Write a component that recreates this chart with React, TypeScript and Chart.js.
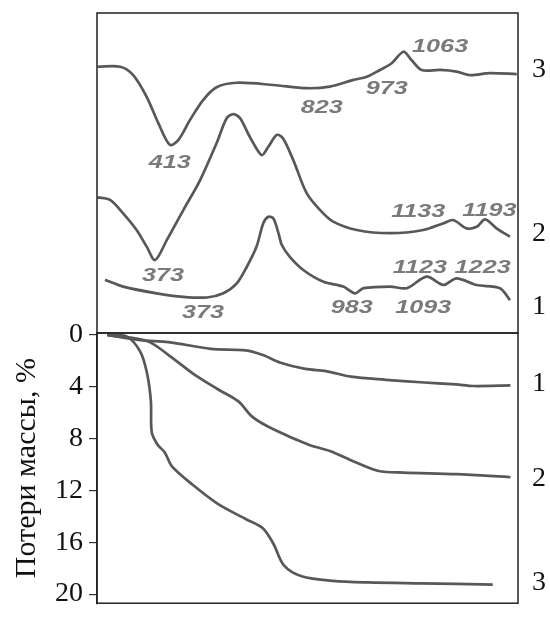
import React, { useEffect, useRef } from "react";
import { Chart, registerables } from "chart.js";

Chart.register(...registerables);

// ---- shared temperature axis (K) ----
const T_MIN = 300;
const T_MAX = 1300;

// ---- DTA curves (upper panel, arbitrary units) ----
const dta3T = [301, 355, 386, 418, 446, 473, 493, 521, 552, 584, 632, 719, 798, 853, 909, 941, 972, 1000, 1028, 1047, 1071, 1115, 1154, 1186, 1233, 1297];
const dta3V = [83.2, 83.2, 80.6, 73.8, 65.5, 58.8, 60.3, 66.6, 72.8, 76.8, 78.2, 77.5, 76.5, 77, 79.1, 80.1, 82.2, 84.3, 87.9, 85.3, 82.2, 82.2, 81.7, 80.6, 81.2, 80.9];

const dta2T = [301, 331, 362, 394, 418, 438, 466, 505, 545, 584, 608, 624, 640, 663, 691, 707, 727, 742, 766, 798, 830, 861, 917, 996, 1075, 1123, 1146, 1178, 1202, 1222, 1249, 1281];
const dta2V = [42.4, 41.6, 37.4, 32.2, 27, 22.8, 29.1, 38.4, 47.8, 59.3, 67.1, 68.4, 67.1, 61.3, 55.6, 58.2, 61.9, 60.8, 54.1, 43.7, 38.4, 34.8, 32.2, 31.2, 32.2, 34.3, 35.3, 32.7, 33.2, 35.5, 32.7, 30.1];

const dta1T = [319, 362, 442, 505, 561, 600, 632, 656, 679, 695, 707, 719, 731, 739, 758, 790, 838, 885, 913, 933, 996, 1036, 1083, 1123, 1154, 1202, 1257, 1281];
const dta1V = [16.6, 14.5, 12.4, 11.3, 11.1, 12.4, 15.5, 20.7, 27, 34.3, 36.3, 35.8, 31.2, 27.5, 23.8, 19.7, 16, 14.5, 12.4, 14, 14.5, 14, 17.6, 15, 17.1, 15, 14, 10.3];

// peak annotations of the DTA curves
const peakTexts = ["1063", "973", "823", "413", "373", "1133", "1193", "1123", "1223", "983", "1093", "373"];
const peakT = [1115, 988, 834, 473, 457, 1063, 1232, 1067, 1216, 905, 1075, 552];
const peakV = [89.5, 76.2, 70.2, 53, 17.8, 37.9, 38.2, 20.2, 20.2, 7.7, 7.7, 6.2];

// ---- mass-loss curves (lower panel, %) ----
const tg1T = [324, 403, 470, 570, 653, 694, 736, 795, 844, 903, 986, 1069, 1153, 1194, 1282];
const tg1V = [0, 0.4, 0.55, 1.07, 1.19, 1.55, 2.14, 2.62, 2.79, 3.22, 3.46, 3.65, 3.82, 3.94, 3.89];

const tg2T = [324, 419, 470, 528, 586, 636, 669, 719, 803, 853, 903, 969, 1028, 1153, 1282];
const tg2V = [0, 0.47, 1.55, 2.98, 4.17, 5.13, 6.32, 7.28, 8.47, 8.95, 9.66, 10.5, 10.62, 10.74, 10.98];

const tg3T = [324, 370, 403, 419, 428, 430, 444, 461, 478, 528, 586, 653, 694, 719, 744, 786, 861, 944, 1069, 1240];
const tg3V = [0, 0.11, 1.3, 2.98, 5.13, 7.51, 8.47, 9.07, 10.14, 11.58, 13.01, 14.2, 14.91, 16.11, 17.78, 18.62, 18.98, 19.1, 19.17, 19.26];

const massTicks = [0, 4, 8, 12, 16, 20];
const massTitle = "Потери массы, %";

// curve numbers at the right edge and the value level where each is written
const dtaCurveNames = ["3", "2", "1"];
const dtaNameV = [82.2, 31.2, 8.1];
const tgCurveNames = ["1", "2", "3"];
const tgNameV = [3.79, 11.1, 19.11];

const LINE_COLOR = "#585858";
const FRAME_COLOR = "#222";
const SERIF = "'Liberation Serif', 'Times New Roman', serif";
const SANS = "'Liberation Sans', Arial, sans-serif";

const zip = (xs: number[], ys: number[]) => xs.map((x, i) => ({ x, y: ys[i] }));

const lineDs = (label: string, xs: number[], ys: number[]) => ({
  label,
  data: zip(xs, ys),
  borderColor: LINE_COLOR,
  borderWidth: 2.7,
  pointRadius: 0,
  tension: 0.3,
  fill: false,
});

const framePlugin = {
  id: "frame",
  afterDraw(chart: any) {
    const { ctx, chartArea } = chart;
    const { left, top, right, bottom } = chartArea;
    ctx.save();
    ctx.strokeStyle = FRAME_COLOR;
    ctx.lineWidth = 1.5;
    ctx.strokeRect(left, top, right - left, bottom - top);
    ctx.restore();
  },
};

const makeEndLabels = (names: string[], levels: number[]) => ({
  id: "endLabels",
  afterDraw(chart: any) {
    const { ctx, chartArea } = chart;
    const ys = chart.scales.y;
    ctx.save();
    ctx.font = `28px ${SERIF}`;
    ctx.fillStyle = "#111";
    ctx.textAlign = "left";
    ctx.textBaseline = "middle";
    names.forEach((n, i) => {
      ctx.fillText(n, chartArea.right + 14, ys.getPixelForValue(levels[i]));
    });
    ctx.restore();
  },
});

const peakLabelsPlugin = {
  id: "peakLabels",
  afterDatasetsDraw(chart: any) {
    const { ctx, chartArea } = chart;
    const xs = chart.scales.x;
    const ys = chart.scales.y;
    ctx.save();
    ctx.beginPath();
    ctx.rect(chartArea.left, chartArea.top, chartArea.right - chartArea.left, chartArea.bottom - chartArea.top);
    ctx.clip();
    ctx.font = `italic bold 18px ${SANS}`;
    ctx.fillStyle = "#7a7a7a";
    ctx.textAlign = "center";
    ctx.textBaseline = "middle";
    peakTexts.forEach((t, i) => {
      const px = xs.getPixelForValue(peakT[i]);
      const py = ys.getPixelForValue(peakV[i]);
      ctx.save();
      ctx.translate(px, py);
      ctx.scale(1.4, 1);
      ctx.fillText(t, 0, 0);
      ctx.restore();
    });
    ctx.restore();
  },
};

export default function App() {
  const topRef = useRef<HTMLCanvasElement>(null);
  const botRef = useRef<HTMLCanvasElement>(null);

  useEffect(() => {
    const top = new Chart(topRef.current!, {
      type: "line",
      data: {
        datasets: [
          lineDs(dtaCurveNames[0], dta3T, dta3V),
          lineDs(dtaCurveNames[1], dta2T, dta2V),
          lineDs(dtaCurveNames[2], dta1T, dta1V),
        ],
      },
      options: {
        animation: false,
        responsive: false,
        devicePixelRatio: 1,
        layout: { padding: { left: 97, right: 32, top: 13, bottom: 7 } },
        plugins: { legend: { display: false }, tooltip: { enabled: false } },
        scales: {
          x: { type: "linear", min: T_MIN, max: T_MAX, display: false },
          y: { type: "linear", min: 0, max: 100, display: false },
        },
      },
      plugins: [framePlugin, peakLabelsPlugin, makeEndLabels(dtaCurveNames, dtaNameV)],
    } as any);

    const bot = new Chart(botRef.current!, {
      type: "line",
      data: {
        datasets: [
          lineDs(tgCurveNames[0], tg1T, tg1V),
          lineDs(tgCurveNames[1], tg2T, tg2V),
          lineDs(tgCurveNames[2], tg3T, tg3V),
        ],
      },
      options: {
        animation: false,
        responsive: false,
        devicePixelRatio: 1,
        layout: { padding: { left: 0, right: 32, top: 33, bottom: 2 } },
        plugins: { legend: { display: false }, tooltip: { enabled: false } },
        scales: {
          x: { type: "linear", min: T_MIN, max: T_MAX, display: false },
          y: {
            type: "linear",
            reverse: true,
            min: -0.15,
            max: 20.7,
            afterBuildTicks: (s: any) => {
              s.ticks = massTicks.map((v) => ({ value: v }));
            },
            afterFit: (s: any) => {
              s.width = 97;
            },
            ticks: {
              font: { family: SERIF, size: 28 },
              color: "#111",
              padding: 6,
              autoSkip: false,
            },
            grid: {
              drawOnChartArea: false,
              drawTicks: true,
              tickLength: 8,
              color: "#333",
              lineWidth: 1.2,
            },
            border: { display: true, color: FRAME_COLOR, width: 1.5 },
            title: {
              display: true,
              text: massTitle,
              font: { family: SERIF, size: 30 },
              color: "#111",
              padding: { top: 9, bottom: 0 },
            },
          },
        },
      },
      plugins: [framePlugin, makeEndLabels(tgCurveNames, tgNameV)],
    } as any);

    return () => {
      top.destroy();
      bot.destroy();
    };
  }, []);

  return (
    <div style={{ position: "absolute", left: 0, top: 0, width: 550, height: 626, background: "#fff" }}>
      <canvas ref={topRef} width={550} height={340} style={{ position: "absolute", left: 0, top: 0 }} />
      <canvas ref={botRef} width={550} height={326} style={{ position: "absolute", left: 0, top: 300 }} />
    </div>
  );
}
